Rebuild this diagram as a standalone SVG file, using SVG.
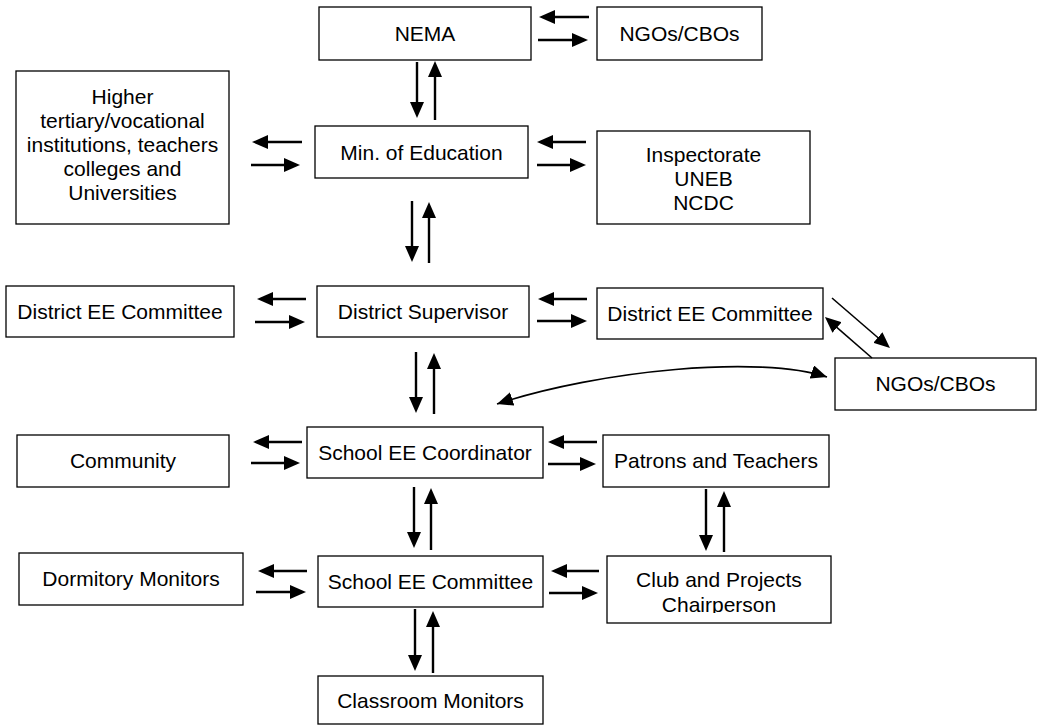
<svg xmlns="http://www.w3.org/2000/svg" width="1038" height="726" viewBox="0 0 1038 726">
<style>
.box{fill:#fff;stroke:#000;stroke-width:1.3}
.t{font-family:"Liberation Sans",Arial,sans-serif;font-size:21px;fill:#000;text-anchor:middle}
.a{stroke:#000;stroke-width:2.4;fill:none}
.thin{stroke:#000;stroke-width:1.6;fill:none}
</style>
<defs>
<marker id="ah" markerUnits="userSpaceOnUse" viewBox="0 0 16 14" refX="6" refY="7" markerWidth="16" markerHeight="14" orient="auto">
<path d="M0,0 L16,7 L0,14 z" fill="#000"/>
</marker>
<marker id="ahc" markerUnits="userSpaceOnUse" viewBox="0 0 16 14" refX="16" refY="7" markerWidth="16" markerHeight="14" orient="auto-start-reverse">
<path d="M0,0 L16,7 L0,14 z" fill="#000"/>
</marker>
<clipPath id="clubclip"><rect x="607" y="556" width="224" height="57"/></clipPath>
</defs>
<rect width="1038" height="726" fill="#fff"/>

<g id="nema"><rect class="box" x="319" y="7" width="212" height="53"/><text class="t" x="425" y="41">NEMA</text></g>
<g id="ngos-top"><rect class="box" x="597" y="7" width="165" height="53"/><text class="t" x="679.5" y="41">NGOs/CBOs</text></g>
<g id="higher"><rect class="box" x="16" y="71" width="213" height="153"/>
<text class="t" x="122.5" y="104">Higher</text>
<text class="t" x="122.5" y="128">tertiary/vocational</text>
<text class="t" x="122.5" y="152">institutions, teachers</text>
<text class="t" x="122.5" y="176">colleges and</text>
<text class="t" x="122.5" y="200">Universities</text></g>
<g id="min-edu"><rect class="box" x="315" y="126" width="213" height="52"/><text class="t" x="421.5" y="159.5">Min. of Education</text></g>
<g id="inspectorate"><rect class="box" x="597" y="131" width="213" height="93"/>
<text class="t" x="703.5" y="162">Inspectorate</text>
<text class="t" x="703.5" y="186">UNEB</text>
<text class="t" x="703.5" y="210">NCDC</text></g>
<g id="district-ee-left"><rect class="box" x="6" y="286" width="228" height="51"/><text class="t" x="120" y="319">District EE Committee</text></g>
<g id="district-supervisor"><rect class="box" x="317" y="286" width="212" height="51"/><text class="t" x="423" y="319">District Supervisor</text></g>
<g id="district-ee-right"><rect class="box" x="597" y="288" width="226" height="51"/><text class="t" x="710" y="321">District EE Committee</text></g>
<g id="ngos-right"><rect class="box" x="835" y="358" width="201" height="52"/><text class="t" x="935.5" y="391">NGOs/CBOs</text></g>
<g id="community"><rect class="box" x="17" y="435" width="212" height="52"/><text class="t" x="123" y="468">Community</text></g>
<g id="school-coordinator"><rect class="box" x="307" y="427" width="236" height="51"/><text class="t" x="425" y="460">School EE Coordinator</text></g>
<g id="patrons"><rect class="box" x="603" y="435" width="226" height="52"/><text class="t" x="716" y="468">Patrons and Teachers</text></g>
<g id="dormitory"><rect class="box" x="19" y="553" width="224" height="52"/><text class="t" x="131" y="586">Dormitory Monitors</text></g>
<g id="school-committee"><rect class="box" x="318" y="556" width="225" height="51"/><text class="t" x="430.5" y="589">School EE Committee</text></g>
<g id="club"><rect class="box" x="607" y="556" width="224" height="67"/>
<text class="t" x="719" y="587">Club and Projects</text>
<text class="t" x="719" y="612" clip-path="url(#clubclip)">Chairperson</text></g>
<g id="classroom"><rect class="box" x="318" y="676" width="225" height="48"/><text class="t" x="430.5" y="707.5">Classroom Monitors</text></g>

<g id="connectors">
<line class="a" x1="589" y1="17" x2="549" y2="17" marker-end="url(#ah)"/>
<line class="a" x1="538" y1="40" x2="578" y2="40" marker-end="url(#ah)"/>
<line class="a" x1="417" y1="62" x2="417" y2="108" marker-end="url(#ah)"/>
<line class="a" x1="435" y1="120" x2="435" y2="71" marker-end="url(#ah)"/>
<line class="a" x1="302" y1="142" x2="262" y2="142" marker-end="url(#ah)"/>
<line class="a" x1="251" y1="165" x2="290" y2="165" marker-end="url(#ah)"/>
<line class="a" x1="586" y1="142" x2="547" y2="142" marker-end="url(#ah)"/>
<line class="a" x1="537" y1="165" x2="576" y2="165" marker-end="url(#ah)"/>
<line class="a" x1="412" y1="201" x2="412" y2="252" marker-end="url(#ah)"/>
<line class="a" x1="429" y1="263" x2="429" y2="212" marker-end="url(#ah)"/>
<line class="a" x1="306" y1="299" x2="267" y2="299" marker-end="url(#ah)"/>
<line class="a" x1="255" y1="322" x2="295" y2="322" marker-end="url(#ah)"/>
<line class="a" x1="587" y1="299" x2="548" y2="299" marker-end="url(#ah)"/>
<line class="a" x1="537" y1="321" x2="577" y2="321" marker-end="url(#ah)"/>
<line class="thin" x1="832" y1="298" x2="882.4" y2="341.5" marker-end="url(#ah)"/>
<line class="thin" x1="872" y1="358" x2="832.5" y2="323.6" marker-end="url(#ah)"/>
<path class="thin" d="M497,404 C600,370 760,355 827,377" marker-start="url(#ahc)" marker-end="url(#ahc)"/>
<line class="a" x1="416" y1="352" x2="416" y2="403" marker-end="url(#ah)"/>
<line class="a" x1="434" y1="414" x2="434" y2="363" marker-end="url(#ah)"/>
<line class="a" x1="302" y1="442" x2="263" y2="442" marker-end="url(#ah)"/>
<line class="a" x1="251" y1="463" x2="290" y2="463" marker-end="url(#ah)"/>
<line class="a" x1="597" y1="442" x2="558" y2="442" marker-end="url(#ah)"/>
<line class="a" x1="548" y1="464" x2="586" y2="464" marker-end="url(#ah)"/>
<line class="a" x1="414" y1="487" x2="414" y2="538" marker-end="url(#ah)"/>
<line class="a" x1="431" y1="550" x2="431" y2="498" marker-end="url(#ah)"/>
<line class="a" x1="706" y1="489" x2="706" y2="541" marker-end="url(#ah)"/>
<line class="a" x1="724" y1="552" x2="724" y2="501" marker-end="url(#ah)"/>
<line class="a" x1="307" y1="571" x2="268" y2="571" marker-end="url(#ah)"/>
<line class="a" x1="256" y1="592" x2="296" y2="592" marker-end="url(#ah)"/>
<line class="a" x1="599" y1="571" x2="561" y2="571" marker-end="url(#ah)"/>
<line class="a" x1="549" y1="593" x2="588" y2="593" marker-end="url(#ah)"/>
<line class="a" x1="415" y1="609" x2="415" y2="661" marker-end="url(#ah)"/>
<line class="a" x1="433" y1="673" x2="433" y2="621" marker-end="url(#ah)"/>
</g>
</svg>
